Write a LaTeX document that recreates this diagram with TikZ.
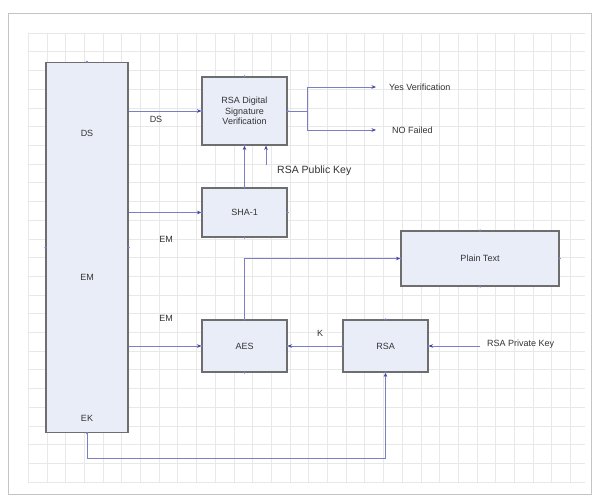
\documentclass[tikz,border=0pt]{standalone}
\usepackage{fontspec}
\setmainfont{Liberation Sans}
\usetikzlibrary{arrows.meta,calc}
\definecolor{boxfill}{HTML}{E9EDF7}
\definecolor{boxline}{HTML}{6E6E6E}
\definecolor{conn}{HTML}{7B80C4}
\definecolor{tipc}{HTML}{45489E}
\definecolor{gridc}{HTML}{E8E8E8}
\definecolor{framec}{HTML}{C4C4C4}
\definecolor{txt}{HTML}{333333}
\tikzset{
  blk/.style={draw=boxline, fill=boxfill, line width=1.1pt, rectangle, inner sep=1pt,
    text=txt, font=\fontsize{9}{10.5}\selectfont, align=center},
  lbl/.style={text=txt, font=\fontsize{9}{10.5}\selectfont, inner sep=1pt},
  wire/.style={draw=conn, line width=0.7pt},
  arr/.style={wire, -{Stealth[length=4.5pt,width=3.6pt,color=tipc]}},
}
\begin{document}
\begin{tikzpicture}[x=1pt,y=-1pt]
\useasboundingbox (0,0) rectangle (596,497);
\fill[white] (0,0) rectangle (596,497);
% grid
\foreach \i in {0,...,29} {\draw[gridc, line width=0.4pt] ({28+18.7*\i},33) -- ({28+18.7*\i},482);}
\foreach \j in {0,...,24} {\draw[gridc, line width=0.4pt] (28,{33+18.7*\j}) -- (585,{33+18.7*\j});}
\draw[framec, line width=0.8pt] (8,13) rectangle (591,494);
% boxes
\node[blk, minimum width=82pt, minimum height=370pt] (tall) at (87,247.5) {};
\node[lbl] (lds) at (87,133) {DS};
\node[lbl] (lem) at (87,277) {EM};
\node[lbl] (lek) at (87,418) {EK};
\node[blk, minimum width=85pt, minimum height=68pt] (dsv) at (244.5,111) {RSA Digital\\Signature\\Verification};
\node[blk, minimum width=85pt, minimum height=49pt] (sha) at (244.5,212.5) {SHA-1};
\node[blk, minimum width=85pt, minimum height=52pt] (aes) at (244.5,346) {AES};
\node[blk, minimum width=85pt, minimum height=52pt] (rsa) at (385.5,346) {RSA};
\node[blk, minimum width=158pt, minimum height=55pt] (plain) at (480,258.5) {Plain Text};
% labels
\node[lbl] (tds) at (156,119) {DS};
\node[lbl] (tem1) at (166,239) {EM};
\node[lbl] (tem2) at (166,318) {EM};
\node[lbl] (tk) at (320,333) {K};
\node[lbl, anchor=west] (yes) at (388,87) {Yes Verification};
\node[lbl, anchor=west] (no) at (391,130) {NO Failed};
\node[lbl, anchor=west, font=\fontsize{10.5}{12}\selectfont] (pub) at (276,171) {RSA Public Key};
\node[lbl, anchor=west] (priv) at (486,344) {RSA Private Key};
\coordinate (pubstart) at (266,165);
% connectors
\draw[arr] (tall.east |- dsv.west) -- (dsv.west);
\draw[arr] (tall.east |- sha.west) -- (sha.west);
\draw[arr] (tall.east |- aes.west) -- (aes.west);
\draw[arr] (sha.north) -- (dsv.south);
\draw[arr] (pubstart) -- (pubstart |- dsv.south);
\draw[wire] (dsv.east) -- ++(20,0) coordinate (br);
\draw[arr] (br) |- ([xshift=-12pt]yes.west);
\draw[arr] (br) |- ([xshift=-15pt]no.west);
\draw[arr] (aes.north) |- (plain.west);
\draw[arr] (rsa.west) -- (aes.east);
\draw[arr] ([xshift=-6pt]priv.west |- rsa.east) -- (rsa.east);
\draw[arr] (tall.south) -- ++(0,25) -| (rsa.south);
% connection points
\foreach \n in {tall,dsv,sha,aes,rsa,plain} {
  \foreach \a in {north,south,east,west} {
    \fill[conn] (\n.\a) circle (1.2pt);
  }
}
\end{tikzpicture}
\end{document}
